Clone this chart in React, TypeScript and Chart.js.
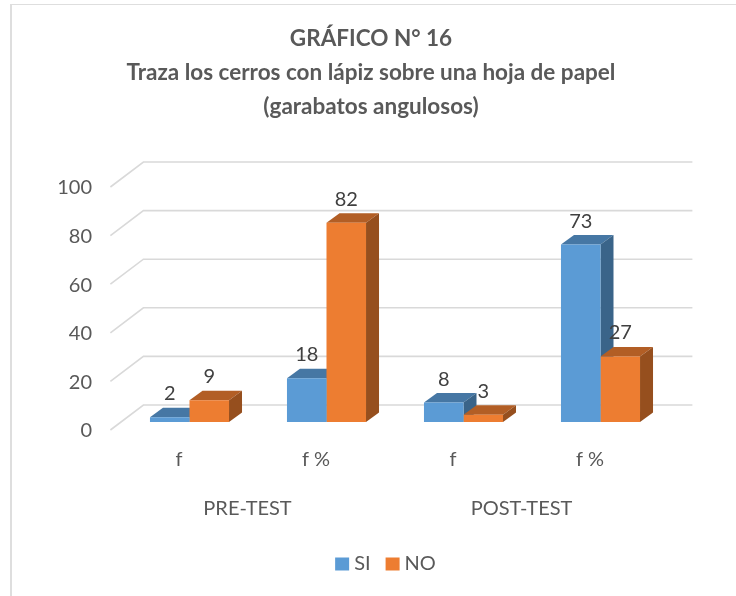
import React, { useEffect, useRef } from "react";
import { Chart, registerables } from "chart.js";

Chart.register(...registerables);

const categories = ["f", "f %", "f", "f %"];
const groups = ["PRE-TEST", "POST-TEST"];
const siValues = [2, 18, 8, 73];
const noValues = [9, 82, 3, 27];
const titleLines = [
  "GRÁFICO N° 16",
  "Traza los cerros con lápiz sobre una hoja de papel",
  "(garabatos angulosos)",
];
const FONT = "Lato, 'Open Sans', sans-serif";

const shades = [
  { top: "#4677A4", side: "#3A6489" },
  { top: "#B25E25", side: "#964F1E" },
];

const threeD = {
  id: "threeD",
  afterLayout(chart: any) {
    chart.legend.left += 17;
    chart.legend.right += 17;
    chart.scales.y.left = 0;
  },
  beforeDatasetsDraw(chart: any) {
    const { ctx, scales } = chart;
    const x = scales.x;
    const y = scales.y;
    ctx.save();
    ctx.strokeStyle = "#D9D9D9";
    ctx.lineWidth = 1.6;
    y.ticks.forEach((t: any) => {
      const py = y.getPixelForValue(t.value);
      ctx.beginPath();
      ctx.moveTo(x.left - 10.6, py + 8);
      ctx.lineTo(x.left + 22.4, py - 17);
      ctx.lineTo(x.right + 23.4, py - 17);
      ctx.stroke();
    });
    const dx = 13;
    const dy = -9.5;
    chart.data.datasets.forEach((_: any, di: number) => {
      chart.getDatasetMeta(di).data.forEach((bar: any) => {
        const { x: cx, y: top, width, base } = bar.getProps(["x", "y", "width", "base"], true);
        const l = cx - width / 2;
        const r = cx + width / 2;
        ctx.fillStyle = shades[di].top;
        ctx.beginPath();
        ctx.moveTo(l, top);
        ctx.lineTo(l + dx, top + dy);
        ctx.lineTo(r + dx, top + dy);
        ctx.lineTo(r, top);
        ctx.closePath();
        ctx.fill();
        ctx.fillStyle = shades[di].side;
        ctx.beginPath();
        ctx.moveTo(r, top);
        ctx.lineTo(r + dx, top + dy);
        ctx.lineTo(r + dx, base + dy);
        ctx.lineTo(r, base);
        ctx.closePath();
        ctx.fill();
      });
    });
    ctx.restore();
  },
  afterDatasetsDraw(chart: any) {
    const { ctx } = chart;
    ctx.save();
    ctx.font = `20px ${FONT}`;
    ctx.fillStyle = "#404040";
    ctx.textAlign = "center";
    ctx.textBaseline = "middle";
    chart.data.datasets.forEach((ds: any, di: number) => {
      chart.getDatasetMeta(di).data.forEach((bar: any, i: number) => {
        ctx.fillText(String(ds.data[i]), bar.x, bar.y - 23.5);
      });
    });
    ctx.restore();
  },
};

export default function App() {
  const ref = useRef<HTMLCanvasElement | null>(null);
  useEffect(() => {
    const chart = new Chart(ref.current as HTMLCanvasElement, {
      type: "bar",
      data: {
        labels: categories,
        datasets: [
          { label: "SI", data: siValues, backgroundColor: "#5B9BD5", categoryPercentage: 0.577, barPercentage: 1 },
          { label: "NO", data: noValues, backgroundColor: "#ED7D31", categoryPercentage: 0.577, barPercentage: 1 },
        ],
      },
      options: {
        responsive: false,
        animation: false,
        layout: { padding: { left: 73, right: 67, top: 22, bottom: 12 } },
        plugins: {
          tooltip: { enabled: false },
          title: {
            display: true,
            text: titleLines,
            color: "#595959",
            font: { family: FONT, size: 22.5, weight: "bold", lineHeight: 1.511 },
            padding: { top: 0, bottom: 55 },
          },
          legend: {
            position: "bottom",
            labels: {
              color: "#595959",
              font: { family: FONT, size: 20 },
              boxWidth: 4,
              boxHeight: 3,
              padding: 20,
              generateLabels(c: any) {
                return Chart.defaults.plugins.legend.labels.generateLabels(c).map((item: any) => ({
                  ...item,
                  lineWidth: 10,
                  strokeStyle: item.fillStyle,
                }));
              },
            },
          },
        },
        scales: {
          x: {
            offset: true,
            grid: { display: false, drawTicks: false },
            border: { display: false },
            ticks: { color: "#595959", font: { family: FONT, size: 20 }, padding: 26, labelOffset: -10.5, maxRotation: 0 },
            afterFit(s: any) {
              s.height = 60;
            },
          },
          group: {
            type: "category",
            position: "bottom",
            labels: groups,
            offset: true,
            grid: { display: false, drawTicks: false },
            border: { display: false },
            ticks: { color: "#595959", font: { family: FONT, size: 20 }, padding: 15, labelOffset: -10.5, maxRotation: 0 },
            afterFit(s: any) {
              s.height = 52;
            },
          },
          y: {
            min: 0,
            max: 100,
            grid: { display: false, drawTicks: false },
            border: { display: false },
            ticks: { stepSize: 20, color: "#595959", font: { family: FONT, size: 20 }, padding: 29, labelOffset: 9 },
            afterFit(s: any) {
              s.width = 48;
            },
          },
        },
      },
      plugins: [threeD],
    } as any);
    return () => chart.destroy();
  }, []);
  return (
    <div style={{ position: "fixed", left: 0, top: 0, width: 736, height: 596, background: "#fff", overflow: "hidden" }}>
      <canvas ref={ref} width={736} height={596} style={{ display: "block" }} />
      <div style={{ position: "absolute", left: 10, top: 4, right: 0, bottom: 0, borderLeft: "2px solid #DEDEDE", borderTop: "1.5px solid #DEDEDE", pointerEvents: "none" }} />
    </div>
  );
}
